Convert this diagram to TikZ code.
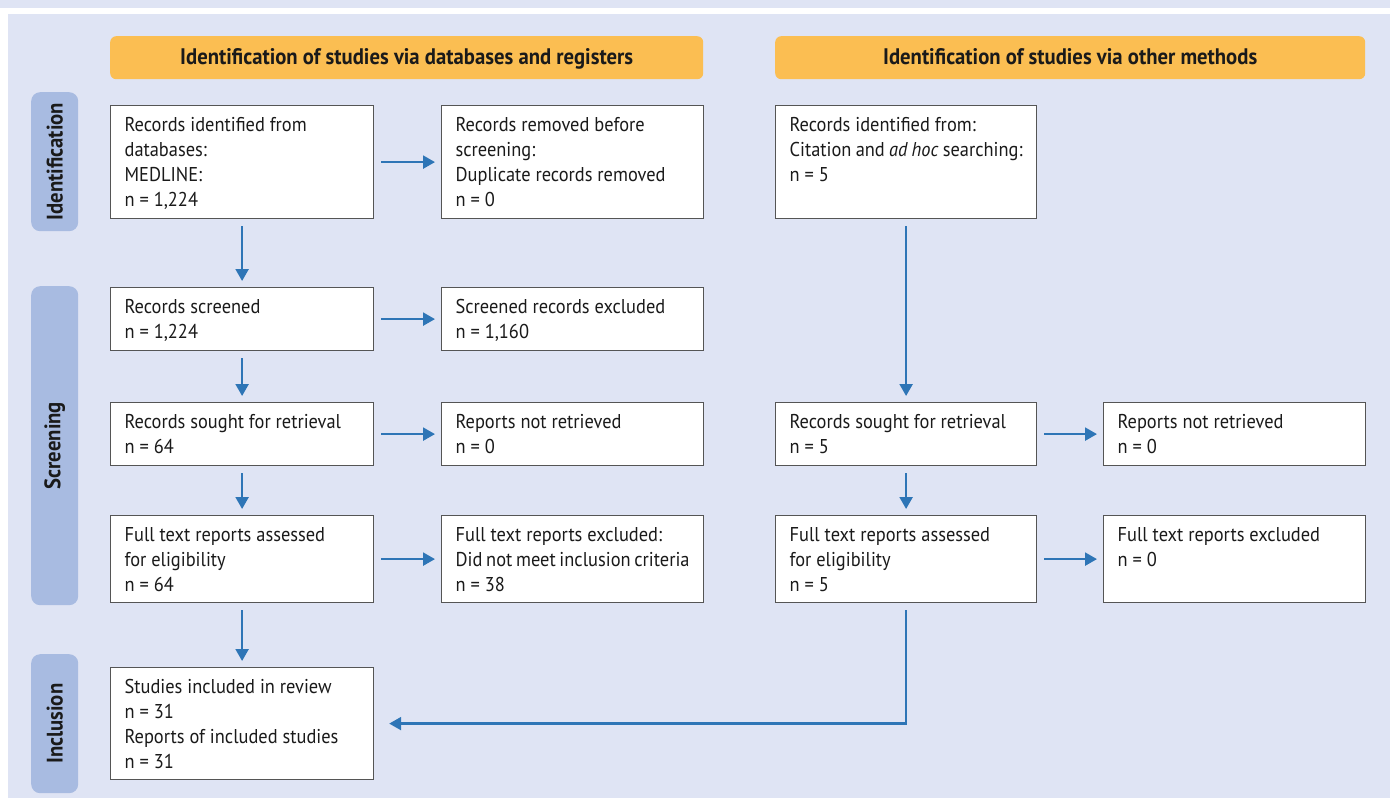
\documentclass[tikz,border=0pt]{standalone}
\usepackage{fontspec}
\setmainfont{PT Sans}[FakeStretch=0.92]
\usetikzlibrary{arrows.meta}
\definecolor{panel}{HTML}{DFE4F4}
\definecolor{hdr}{HTML}{FBBE52}
\definecolor{side}{HTML}{A8BBE1}
\definecolor{arr}{HTML}{2E75B6}
\definecolor{bord}{HTML}{555555}
\definecolor{ink}{HTML}{1A1A1A}
\newcommand\bxt[3]{\parbox[c][#2pt][t]{\dimexpr#1pt-28pt\relax}{\fontsize{20}{25}\selectfont\rule{0pt}{26pt}#3}}
\tikzset{
  box/.style={draw=bord, line width=1.2pt, fill=white, anchor=north west, inner xsep=14pt, inner ysep=0pt, text=ink},
  hdrbox/.style={fill=hdr, rounded corners=6pt, minimum width=593pt, minimum height=43pt, anchor=north west, inner sep=0pt, text height=18pt, text depth=4pt, font=\fontsize{22.5}{26}\selectfont\bfseries, text=ink},
  sidebox/.style={fill=side, rounded corners=9pt, anchor=north west, inner sep=0pt, minimum width=47pt, font=\fontsize{22.5}{26}\selectfont\bfseries, text=ink},
  conn/.style={draw=arr, line width=2.3pt, -{Triangle[length=12pt,width=13pt]}, shorten <=7pt, shorten >=6pt}
}
\begin{document}
\begin{tikzpicture}[x=1pt,y=-1pt]
\useasboundingbox (0,0) rectangle (1390,798);
\fill[white] (0,0) rectangle (1390,798);
\fill[panel] (0,0) rectangle (1390,8);
\fill[panel] (8,14) rectangle (1390,798);
% headers
\node[hdrbox] (h1) at (110,36) {Identification of studies via databases and registers};
\node[hdrbox, minimum width=590pt] (h2) at (775,36) {Identification of studies via other methods};
% side labels
\node[sidebox, minimum height=139pt] (s1) at (31,92) {\rotatebox{90}{Identification}};
\node[sidebox, minimum height=319pt] (s2) at (31,286) {\rotatebox{90}{Screening}};
\node[sidebox, minimum height=139pt] (s3) at (31,654) {\rotatebox{90}{Inclusion}};
% left column
\node[box] (a1) at (110,105) {\bxt{263}{113}{Records identified from\\databases:\\MEDLINE:\\n = 1,224}};
\node[box] (a2) at (441,105) {\bxt{262}{113}{Records removed before\\screening:\\Duplicate records removed\\n = 0}};
\node[box] (b1) at (110,287) {\bxt{263}{63}{Records screened\\n = 1,224}};
\node[box] (b2) at (441,287) {\bxt{262}{63}{Screened records excluded\\n = 1,160}};
\node[box] (c1) at (110,402) {\bxt{263}{63}{Records sought for retrieval\\n = 64}};
\node[box] (c2) at (441,402) {\bxt{262}{63}{Reports not retrieved\\n = 0}};
\node[box] (d1) at (110,515) {\bxt{263}{87}{Full text reports assessed\\for eligibility\\n = 64}};
\node[box] (d2) at (441,515) {\bxt{262}{87}{Full text reports excluded:\\Did not meet inclusion criteria\\n = 38}};
\node[box] (e1) at (110,667) {\bxt{263}{112}{Studies included in review\\n = 31\\Reports of included studies\\n = 31}};
% right column
\node[box] (r1) at (775,105) {\bxt{261}{113}{Records identified from:\\Citation and \textit{ad hoc} searching:\\n = 5}};
\node[box] (r2) at (775,402) {\bxt{261}{63}{Records sought for retrieval\\n = 5}};
\node[box] (r3) at (1103,402) {\bxt{262}{63}{Reports not retrieved\\n = 0}};
\node[box] (r4) at (775,515) {\bxt{261}{87}{Full text reports assessed\\for eligibility\\n = 5}};
\node[box] (r5) at (1103,515) {\bxt{262}{87}{Full text reports excluded\\n = 0}};
% connectors
\draw[conn] (a1) -- (a2);
\draw[conn] (b1) -- (b2);
\draw[conn] (c1) -- (c2);
\draw[conn] (d1) -- (d2);
\draw[conn] (a1) -- (b1);
\draw[conn] (b1) -- (c1);
\draw[conn] (c1) -- (d1);
\draw[conn] (d1) -- (e1);
\draw[conn] (r1) -- (r2);
\draw[conn] (r2) -- (r4);
\draw[conn] (r2) -- (r3);
\draw[conn] (r4) -- (r5);
\draw[conn, shorten >=15pt] (r4.south) |- (e1.east);
\end{tikzpicture}
\end{document}
